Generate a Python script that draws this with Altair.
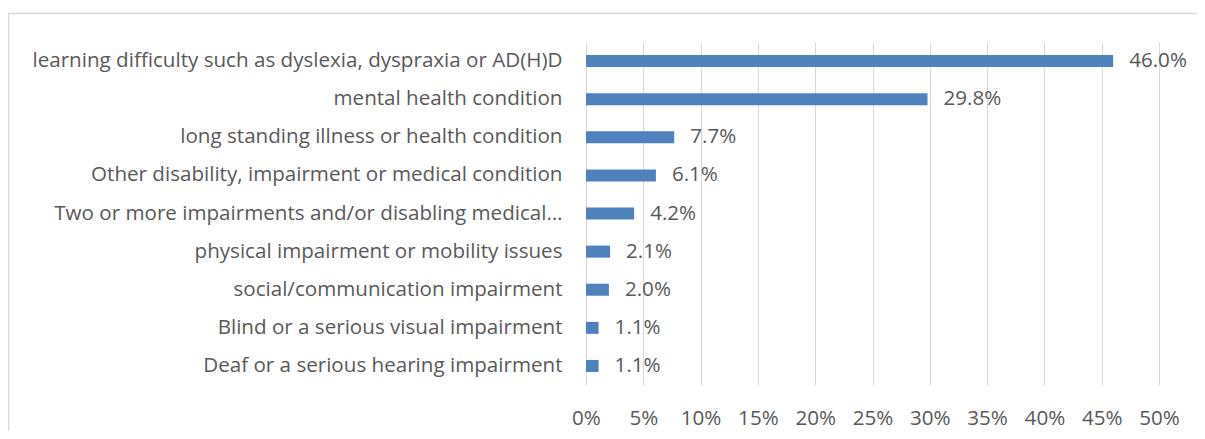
import altair as alt
import pandas as pd

categories = [
    "learning difficulty such as dyslexia, dyspraxia or AD(H)D",
    "mental health condition",
    "long standing illness or health condition",
    "Other disability, impairment or medical condition",
    "Two or more impairments and/or disabling medical\u2026",
    "physical impairment or mobility issues",
    "social/communication impairment\u2002",
    "Blind or a serious visual impairment",
    "Deaf or a serious hearing impairment",
]
values = [46.0, 29.8, 7.7, 6.1, 4.2, 2.1, 2.0, 1.1, 1.1]
tick_values = [0, 5, 10, 15, 20, 25, 30, 35, 40, 45, 50]

df = pd.DataFrame({"category": categories, "value": values})

FONT = "Open Sans"
FS = 20.6
GRAY = "#595959"

x_enc = alt.X(
    "value:Q",
    scale=alt.Scale(domain=[0, 50], nice=False),
    axis=alt.Axis(
        values=tick_values,
        labelExpr="datum.value + '%'",
        grid=True,
        gridColor="#d9d9d9",
        gridWidth=1,
        domain=False,
        ticks=False,
        labelFlush=False,
        labelOverlap=False,
        labelPadding=23,
        labelFont=FONT,
        labelFontSize=FS,
        labelColor=GRAY,
        title=None,
    ),
)
y_enc = alt.Y(
    "category:N",
    sort=categories,
    scale=alt.Scale(paddingInner=0.68, paddingOuter=0.34),
    axis=alt.Axis(
        grid=False,
        domain=False,
        ticks=False,
        labelPadding=24,
        labelFont=FONT,
        labelFontSize=FS,
        labelColor=GRAY,
        labelLimit=0,
        title=None,
    ),
)

border = alt.Chart(pd.DataFrame({"a": [0]})).mark_rect(
    filled=False, stroke="#d9d9d9", strokeWidth=1.5
).encode(
    x=alt.value(-577.5), x2=alt.value(900), y=alt.value(-28.5), y2=alt.value(600)
)

bars = alt.Chart(df).mark_bar(color="#4f81bd", size=12).encode(x=x_enc, y=y_enc)

labels = alt.Chart(df).transform_calculate(
    label="format(datum.value, '.1f') + '%'"
).mark_text(
    align="left", baseline="middle", dx=16, font=FONT, fontSize=FS, color=GRAY
).encode(x="value:Q", y=alt.Y("category:N", sort=categories), text="label:N")

chart = alt.layer(border, bars, labels).properties(
    width=573,
    height=343,
    autosize=alt.AutoSizeParams(type="none"),
    padding={"left": 578, "top": 34, "right": 38, "bottom": 46},
).configure_view(stroke=None)

chart.save("out.html", embed_options={"renderer": "svg", "actions": False})
